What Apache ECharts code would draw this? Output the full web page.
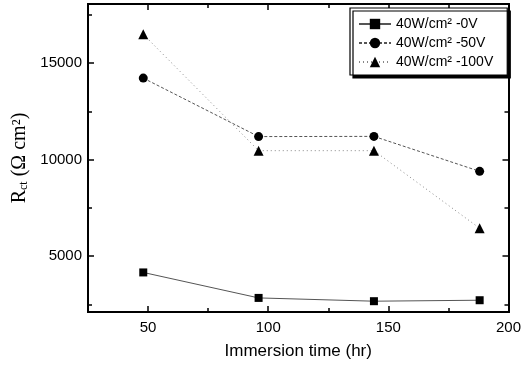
<!DOCTYPE html>
<html><head><meta charset="utf-8">
<script src="https://cdn.jsdelivr.net/npm/echarts@6/dist/echarts.min.js"></script>
<style>html,body{margin:0;padding:0;background:#fff}#c{width:524px;height:365px}</style>
</head><body><div id="c"></div>
<script>
const times = [48, 96, 144, 188];
const rct0V = [4150, 2830, 2660, 2710];
const rct50V = [14220, 11190, 11200, 9390];
const rct100V = [16490, 10460, 10460, 6440];
const seriesNames = ['40W/cm\u00B2 -0V', '40W/cm\u00B2 -50V', '40W/cm\u00B2 -100V'];
const xMajorTicks = [50, 100, 150, 200];
const xMinorTicks = [75, 125, 175];
const yMajorTicks = [5000, 10000, 15000];
const yMinorTicks = [2500, 7500, 12500, 17500];

const X_MIN = 25, X_MAX = 200, Y_MIN = 2100, Y_MAX = 18060;
const lbl = {fontFamily: 'Liberation Sans, Arial, sans-serif', fontSize: 15, color: '#000', formatter: v => String(v)};

function xAx(pos, ticks, len, showLabel, extra) {
  return Object.assign({
    type: 'value', position: pos, min: X_MIN, max: X_MAX,
    axisLine: {show: true, onZero: false, lineStyle: {color: '#000', width: 2}},
    axisTick: {show: true, inside: true, length: len, customValues: ticks, lineStyle: {color: '#000', width: 1.5}},
    axisLabel: showLabel ? Object.assign({customValues: ticks, margin: 8}, lbl) : {show: false},
    splitLine: {show: false}
  }, extra || {});
}
function yAx(pos, ticks, len, showLabel) {
  return {
    type: 'value', position: pos, min: Y_MIN, max: Y_MAX,
    axisLine: {show: true, onZero: false, lineStyle: {color: '#000', width: 2}},
    axisTick: {show: true, inside: true, length: len, customValues: ticks, lineStyle: {color: '#000', width: 1.5}},
    axisLabel: showLabel ? Object.assign({customValues: ticks, margin: 6}, lbl) : {show: false},
    splitLine: {show: false}
  };
}

const chart = echarts.init(document.getElementById('c'), null, {renderer: 'canvas'});
const mk = (arr) => times.map((t, i) => [t, arr[i]]);
chart.setOption({
  animation: false,
  backgroundColor: '#fff',
  grid: {left: 88, right: 12, top: 4, bottom: 49},
  xAxis: [
    xAx('bottom', xMajorTicks, 6, true, {
      name: 'Immersion time (hr)', nameLocation: 'middle', nameGap: 31,
      nameTextStyle: {fontFamily: 'Liberation Sans, Arial, sans-serif', fontSize: 17, color: '#000'}
    }),
    xAx('bottom', xMinorTicks, 4, false),
    xAx('top', xMajorTicks, 6, false),
    xAx('top', xMinorTicks, 4, false)
  ],
  yAxis: [
    Object.assign(yAx('left', yMajorTicks, 6, true), {
      name: '{r|R}{s|ct}{r| (\u03A9 cm\u00B2)}', nameLocation: 'middle', nameGap: 56, nameRotate: 90,
      nameTextStyle: {rich: {
        r: {fontFamily: 'Liberation Serif, Times New Roman, serif', fontSize: 20, color: '#000'},
        s: {fontFamily: 'Liberation Serif, Times New Roman, serif', fontSize: 12, color: '#000', padding: [8, 0, 0, 0]}
      }}
    }),
    yAx('left', yMinorTicks, 4, false),
    yAx('right', yMajorTicks, 6, false),
    yAx('right', yMinorTicks, 4, false)
  ],
  legend: {
    orient: 'vertical', left: 350, top: 8,
    backgroundColor: '#fff', borderColor: '#000', borderWidth: 1.2,
    shadowColor: '#000', shadowOffsetX: 3, shadowOffsetY: 3, shadowBlur: 0,
    padding: [9, 14, 6, 8], itemGap: 5, itemWidth: 32, itemHeight: 13,
    textStyle: {fontFamily: 'Liberation Sans, Arial, sans-serif', fontSize: 14, color: '#000'},
    data: seriesNames
  },
  series: [
    {name: seriesNames[0], type: 'line', data: mk(rct0V), symbol: 'rect', symbolSize: 8,
     itemStyle: {color: '#000'}, lineStyle: {color: '#555', width: 1, type: 'solid'}},
    {name: seriesNames[1], type: 'line', data: mk(rct50V), symbol: 'circle', symbolSize: 9,
     itemStyle: {color: '#000'}, lineStyle: {color: '#555', width: 1, type: [3, 2]}},
    {name: seriesNames[2], type: 'line', data: mk(rct100V), symbol: 'triangle', symbolSize: 10,
     itemStyle: {color: '#000'}, lineStyle: {color: '#888', width: 1, type: [1, 3]}}
  ]
});
</script></body></html>
